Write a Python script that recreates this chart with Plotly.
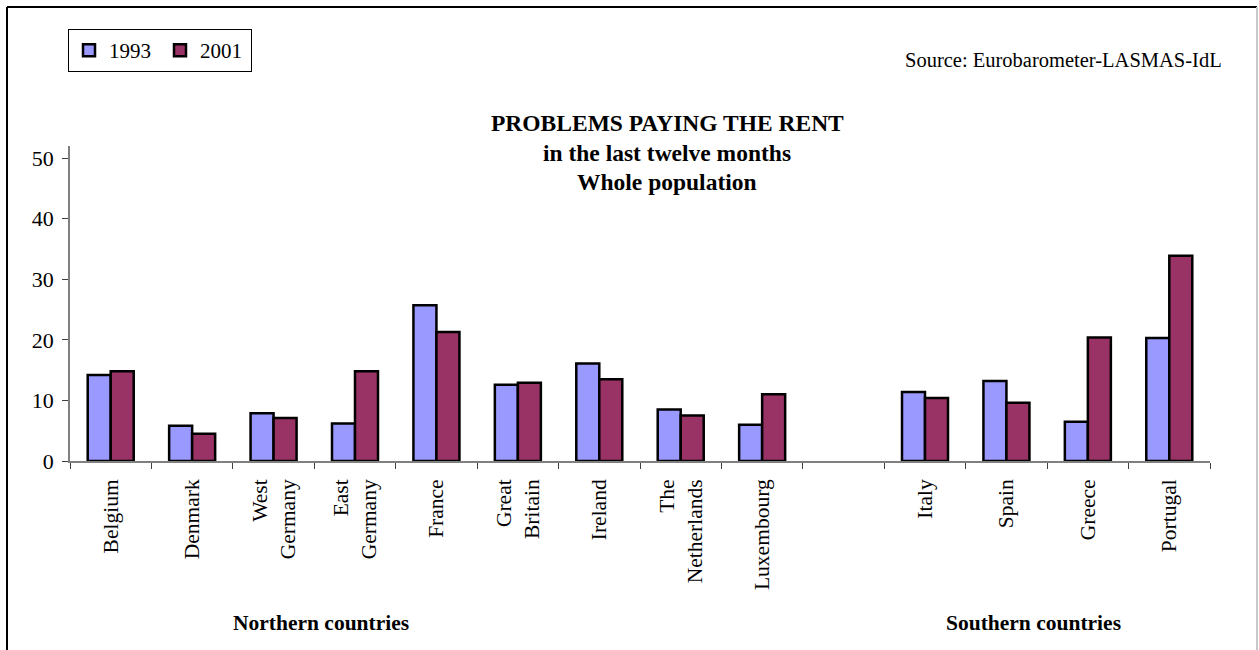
import plotly.graph_objects as go

# Share of households with rent payment problems (%), by country
northern = ["Belgium", "Denmark", "West<br>Germany", "East<br>Germany", "France",
            "Great<br>Britain", "Ireland", "The<br>Netherlands", "Luxembourg"]
southern = ["Italy", "Spain", "Greece", "Portugal"]

north_1993 = [14.2, 5.8, 7.9, 6.2, 25.7, 12.6, 16.1, 8.5, 6.0]
north_2001 = [14.8, 4.5, 7.1, 14.8, 21.3, 12.9, 13.5, 7.5, 11.0]
south_1993 = [11.4, 13.2, 6.5, 20.3]
south_2001 = [10.4, 9.6, 20.4, 33.9]

y_ticks = [0, 10, 20, 30, 40, 50]

# An empty category separates the two country groups
gap = " "
categories = northern + [gap] + southern
values_1993 = north_1993 + [None] + south_1993
values_2001 = north_2001 + [None] + south_2001

FONT = "Liberation Serif, Times New Roman, serif"

fig = go.Figure()
fig.add_trace(go.Bar(
    x=categories, y=values_1993, name="1993",
    marker=dict(color="#9999FF", line=dict(color="black", width=2.5)),
))
fig.add_trace(go.Bar(
    x=categories, y=values_2001, name="2001",
    marker=dict(color="#993366", line=dict(color="black", width=2.5)),
))

W, H = 1259, 650
L, R, T, B = 70, 49, 146, 189
pw, ph = W - L - R, H - T - B


def px(x):
    return (x - L) / pw


def py(y):
    return (H - B - y) / ph


annotations = [
    dict(text="<b>PROBLEMS PAYING THE RENT</b>", x=px(667), y=py(123), size=23.5),
    dict(text="<b>in the last twelve months</b>", x=px(667), y=py(153), size=23.5),
    dict(text="<b>Whole population</b>", x=px(667), y=py(182), size=23.5),
    dict(text="<b>Northern countries</b>", x=px(321), y=py(623), size=21.5),
    dict(text="<b>Southern countries</b>", x=px(1033), y=py(623), size=21.5),
]
layout_annotations = [
    dict(text=a["text"], x=a["x"], y=a["y"], xref="paper", yref="paper",
         xanchor="center", yanchor="middle", showarrow=False,
         font=dict(family=FONT, size=a["size"], color="black"))
    for a in annotations
]
layout_annotations.append(dict(
    text="Source: Eurobarometer-LASMAS-IdL", x=px(1224), y=py(60),
    xref="paper", yref="paper", xanchor="right", yanchor="middle",
    showarrow=False, font=dict(family=FONT, size=20.5, color="black"),
))

# Frame around the whole chart
shapes = [
    dict(type="line", xref="paper", yref="paper", x0=px(7), x1=px(7),
         y0=py(7), y1=py(650), line=dict(color="black", width=2)),
    dict(type="line", xref="paper", yref="paper", x0=px(7), x1=px(1257),
         y0=py(7), y1=py(7), line=dict(color="black", width=2)),
    dict(type="line", xref="paper", yref="paper", x0=px(1257), x1=px(1257),
         y0=py(7), y1=py(650), line=dict(color="#c8c8c8", width=2)),
]

fig.update_layout(
    width=W, height=H,
    margin=dict(l=L, r=R, t=T, b=B, autoexpand=False),
    paper_bgcolor="white", plot_bgcolor="white",
    font=dict(family=FONT, size=21, color="black"),
    barmode="group", bargap=0.435, bargroupgap=0,
    showlegend=True,
    legend=dict(orientation="h", x=px(68), y=py(29), xanchor="left", yanchor="top",
                bordercolor="black", borderwidth=1, bgcolor="white",
                font=dict(family=FONT, size=21, color="black"),
                itemwidth=30, entrywidth=46, entrywidthmode="pixels",
                tracegroupgap=0),
    annotations=layout_annotations,
    shapes=shapes,
)

fig.update_xaxes(
    type="category", categoryorder="array", categoryarray=categories,
    tickson="boundaries", ticks="outside", ticklen=6, tickcolor="#404040",
    showline=True, linecolor="#808080", linewidth=1.5,
    showgrid=False, zeroline=False, tickangle=-90, ticklabelstandoff=8,
    tickfont=dict(family=FONT, size=21.5, color="black"),
    range=[-0.5, len(categories) - 0.5],
)
fig.update_yaxes(
    range=[0, 52], tickvals=y_ticks, ticks="outside", ticklen=6, tickcolor="#404040",
    showline=True, linecolor="#808080", linewidth=1.5,
    showgrid=False, zeroline=False, ticklabelstandoff=4,
    tickfont=dict(family=FONT, size=22, color="black"),
)

fig.write_html("out.html")
